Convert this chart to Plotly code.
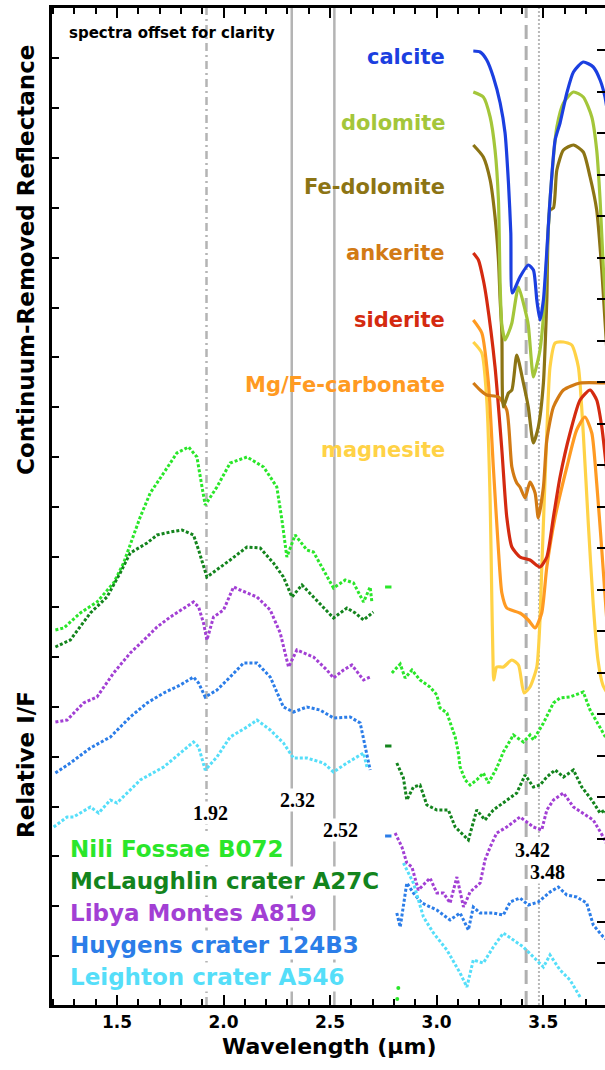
import plotly.graph_objects as go

# ---------------- data (wavelength in µm, offset reflectance / I/F in arbitrary units) ----------------
x_tick_vals = [1.5, 2.0, 2.5, 3.0, 3.5]
x_tick_text = ["1.5", "2.0", "2.5", "3.0", "3.5"]

band_centers = [1.92, 2.32, 2.52, 3.42, 3.48]
band_labels = ["1.92", "2.32", "2.52", "3.42", "3.48"]

mineral_names = ["calcite", "dolomite", "Fe-dolomite", "ankerite", "siderite", "Mg/Fe-carbonate", "magnesite"]
site_names = ["Nili Fossae B072", "McLaughlin crater A27C", "Libya Montes A819",
              "Huygens crater 124B3", "Leighton crater A546"]

# laboratory spectra (continuum removed, offset)
calcite_wl = [3.172, 3.204, 3.235, 3.266, 3.298, 3.321, 3.337, 3.348, 3.355, 3.391, 3.430, 3.454, 3.470,
              3.485, 3.501, 3.532, 3.556, 3.579, 3.611, 3.642, 3.688, 3.735, 3.767, 3.790, 3.80]
calcite_val = [954, 953, 945, 928, 902, 872, 822, 772, 712, 728, 740, 735, 705,
               685, 705, 805, 865, 882, 912, 933, 943, 938, 925, 908, 895]

dolomite_wl = [3.172, 3.219, 3.251, 3.274, 3.290, 3.298, 3.306, 3.321, 3.337, 3.353, 3.384, 3.415, 3.430,
               3.454, 3.470, 3.485, 3.501, 3.532, 3.564, 3.595, 3.642, 3.688, 3.728, 3.751, 3.767, 3.782, 3.80]
dolomite_val = [913, 908, 888, 855, 805, 720, 680, 665, 672, 682, 718, 695, 680,
                628, 640, 655, 688, 805, 878, 902, 913, 908, 888, 855, 805, 738, 680]

fedolomite_wl = [3.172, 3.219, 3.251, 3.274, 3.290, 3.298, 3.306, 3.313, 3.337, 3.353, 3.376, 3.407, 3.430,
                 3.454, 3.477, 3.501, 3.517, 3.532, 3.548, 3.564, 3.595, 3.642, 3.688, 3.720, 3.751, 3.775, 3.80]
fedolomite_val = [860, 848, 825, 788, 745, 705, 672, 598, 612, 615, 650, 622, 598,
                  562, 578, 622, 705, 795, 797, 835, 855, 860, 853, 828, 795, 735, 650]

ankerite_wl = [3.172, 3.204, 3.235, 3.290, 3.329, 3.353, 3.376, 3.391, 3.415, 3.438, 3.462, 3.477, 3.501,
               3.517, 3.548, 3.595, 3.673, 3.80]
ankerite_val = [622, 615, 610, 608, 595, 538, 522, 518, 507, 523, 512, 487, 518,
                565, 598, 615, 622, 622]

siderite_wl = [3.172, 3.196, 3.219, 3.235, 3.274, 3.306, 3.329, 3.353, 3.391, 3.438, 3.485, 3.517, 3.548,
               3.579, 3.626, 3.673, 3.720, 3.751, 3.775, 3.80]
siderite_val = [752, 745, 725, 705, 638, 555, 488, 458, 448, 445, 438, 448, 488,
                528, 572, 605, 615, 605, 578, 530]

mgfe_wl = [3.172, 3.212, 3.243, 3.266, 3.290, 3.306, 3.329, 3.391, 3.430, 3.462, 3.493, 3.517, 3.556,
           3.611, 3.657, 3.696, 3.728, 3.751, 3.775, 3.80]
mgfe_val = [685, 672, 622, 538, 455, 412, 397, 392, 385, 377, 392, 438, 488,
            538, 575, 588, 572, 522, 455, 380]

magnesite_wl = [3.172, 3.212, 3.235, 3.251, 3.259, 3.264, 3.268, 3.282, 3.313, 3.353, 3.384, 3.410, 3.438,
                3.470, 3.485, 3.493, 3.517, 3.532, 3.556, 3.595, 3.634, 3.665, 3.688, 3.712, 3.735, 3.757,
                3.780, 3.80]
magnesite_val = [663, 652, 605, 505, 405, 350, 325, 338, 338, 345, 340, 312, 318,
                 338, 385, 435, 572, 638, 662, 663, 660, 638, 572, 480, 400, 345,
                 320, 312]

# CRISM spectra (relative I/F, offset) - short-wavelength segment
nili1_wl = [1.211, 1.250, 1.328, 1.406, 1.484, 1.531, 1.609, 1.656, 1.719, 1.781, 1.836, 1.875, 1.899,
            1.914, 1.969, 2.031, 2.110, 2.188, 2.250, 2.274, 2.297, 2.336, 2.391, 2.422, 2.469, 2.516,
            2.571, 2.610, 2.657, 2.688, 2.696]
nili1_val = [375, 377, 392, 403, 422, 442, 488, 512, 532, 552, 558, 548, 518,
             500, 518, 542, 548, 538, 518, 485, 448, 470, 455, 453, 435, 417,
             425, 422, 403, 418, 403]

mcl1_wl = [1.211, 1.281, 1.375, 1.453, 1.515, 1.562, 1.641, 1.688, 1.750, 1.805, 1.859, 1.883, 1.922,
           1.969, 2.031, 2.110, 2.172, 2.234, 2.281, 2.321, 2.368, 2.422, 2.469, 2.516, 2.579, 2.618,
           2.657, 2.703]
mcl1_val = [358, 365, 392, 408, 432, 452, 462, 470, 473, 475, 470, 455, 428,
            435, 445, 458, 457, 442, 428, 408, 420, 408, 397, 387, 397, 392,
            385, 393]

lib1_wl = [1.211, 1.266, 1.343, 1.406, 1.484, 1.562, 1.641, 1.688, 1.750, 1.812, 1.859, 1.883, 1.906,
           1.922, 1.953, 2.000, 2.047, 2.078, 2.157, 2.219, 2.266, 2.305, 2.344, 2.422, 2.485, 2.516,
           2.563, 2.602, 2.657, 2.688]
lib1_val = [283, 285, 302, 308, 332, 352, 368, 378, 388, 397, 403, 398, 382,
            365, 388, 395, 418, 415, 408, 395, 372, 338, 355, 348, 335, 327,
            335, 340, 325, 328]

huy1_wl = [1.211, 1.281, 1.375, 1.469, 1.562, 1.641, 1.719, 1.797, 1.859, 1.883, 1.914, 1.969, 2.031,
           2.094, 2.157, 2.219, 2.281, 2.328, 2.391, 2.453, 2.516, 2.594, 2.641, 2.657, 2.688]
huy1_val = [232, 242, 257, 268, 288, 302, 312, 320, 328, 322, 308, 315, 328,
            342, 342, 328, 298, 293, 298, 295, 287, 288, 282, 265, 235]

lei1_wl = [1.203, 1.266, 1.296, 1.375, 1.414, 1.469, 1.500, 1.609, 1.719, 1.797, 1.859, 1.883, 1.914,
           1.969, 2.031, 2.110, 2.157, 2.219, 2.281, 2.328, 2.391, 2.469, 2.516, 2.579, 2.657, 2.673]
lei1_val = [178, 188, 188, 198, 192, 205, 202, 225, 238, 252, 263, 258, 235,
            248, 268, 278, 285, 275, 262, 247, 247, 242, 233, 242, 252, 238]

# CRISM spectra - long-wavelength segment
nili2_wl = [2.790, 2.829, 2.852, 2.884, 2.922, 2.969, 3.001, 3.016, 3.048, 3.071, 3.087, 3.102, 3.110,
            3.134, 3.157, 3.188, 3.219, 3.243, 3.282, 3.313, 3.360, 3.407, 3.438, 3.454, 3.501, 3.548,
            3.579, 3.626, 3.688, 3.720, 3.767, 3.782, 3.80]
nili2_val = [332, 341, 327, 335, 325, 318, 310, 297, 292, 278, 268, 252, 238,
             225, 220, 225, 232, 222, 237, 253, 270, 263, 270, 265, 282, 302,
             307, 308, 313, 295, 278, 272, 265]

mcl2_wl = [2.813, 2.844, 2.860, 2.891, 2.922, 2.954, 3.001, 3.055, 3.087, 3.118, 3.149, 3.188, 3.227,
           3.266, 3.329, 3.376, 3.415, 3.454, 3.485, 3.517, 3.556, 3.595, 3.642, 3.681, 3.728, 3.767,
           3.790, 3.80]
mcl2_val = [242, 227, 205, 218, 220, 200, 195, 195, 178, 172, 165, 195, 185,
            195, 205, 212, 230, 218, 220, 228, 235, 228, 235, 218, 205, 192,
            195, 190]

lib2_wl = [2.805, 2.837, 2.860, 2.884, 2.914, 2.969, 3.001, 3.032, 3.063, 3.095, 3.126, 3.157, 3.204,
           3.227, 3.251, 3.282, 3.329, 3.391, 3.423, 3.454, 3.493, 3.517, 3.548, 3.595, 3.642, 3.688,
           3.735, 3.782, 3.80]
lib2_val = [172, 158, 142, 138, 115, 127, 112, 112, 102, 128, 98, 113, 122,
            145, 158, 172, 178, 188, 183, 178, 175, 195, 205, 212, 198, 192,
            185, 168, 160]

huy2_wl = [2.813, 2.829, 2.860, 2.891, 2.930, 3.001, 3.063, 3.110, 3.149, 3.172, 3.204, 3.266, 3.313,
           3.345, 3.391, 3.430, 3.477, 3.532, 3.571, 3.611, 3.657, 3.704, 3.735, 3.782, 3.80]
huy2_val = [92, 78, 122, 112, 102, 95, 85, 92, 75, 98, 92, 92, 90,
            103, 107, 100, 103, 113, 118, 110, 108, 102, 80, 68, 65]

lei2_wl = [2.844, 2.891, 2.938, 2.985, 3.048, 3.110, 3.142, 3.172, 3.219, 3.266, 3.313, 3.360, 3.407,
           3.454, 3.501, 3.532, 3.579, 3.626, 3.673]
lei2_val = [142, 122, 88, 72, 55, 32, 18, 45, 42, 58, 72, 65, 58,
            48, 38, 50, 35, 25, 8]

# short clusters near 2.77 µm and stray Nili points
nili_dash_wl = [2.758, 2.788]
nili_dash_val = [418, 418]
mcl_dash_wl = [2.758, 2.788]
mcl_dash_val = [259, 259]
huy_dash_wl = [2.758, 2.788]
huy_dash_val = [169, 169]
nili_stray_wl = [2.820, 2.815]
nili_stray_val = [17, 6]

# ---------------- styling ----------------
W, H = 605, 1070
L, R, T, B = 52, 605, 8, 1005
FONT = "DejaVu Sans"
SERIF = "Liberation Serif"

mineral_colors = ["#1b3fe0", "#a4c63a", "#8c7414", "#d27a14", "#d42a10", "#ff9a22", "#ffd246"]
site_colors = ["#2ae62a", "#13841d", "#a23fd4", "#2b7de8", "#55def9"]


def fx(p):
    return (p - L) / (R - L)


def fy(p):
    return (B - p) / (B - T)


fig = go.Figure()

# Mars (CRISM) spectra drawn as dotted traces
mars_segments = [
    [(nili1_wl, nili1_val), (nili2_wl, nili2_val)],
    [(mcl1_wl, mcl1_val), (mcl2_wl, mcl2_val)],
    [(lib1_wl, lib1_val), (lib2_wl, lib2_val)],
    [(huy1_wl, huy1_val), (huy2_wl, huy2_val)],
    [(lei1_wl, lei1_val), (lei2_wl, lei2_val)],
]
for segs, col in zip(mars_segments, site_colors):
    for wl, val in segs:
        fig.add_trace(go.Scatter(x=wl, y=val, mode="lines",
                                 line=dict(color=col, width=3, dash="3px,2px"),
                                 hoverinfo="skip", showlegend=False))

for (wl, val), col in zip([(nili_dash_wl, nili_dash_val), (mcl_dash_wl, mcl_dash_val),
                           (huy_dash_wl, huy_dash_val)],
                          [site_colors[0], site_colors[1], site_colors[3]]):
    fig.add_trace(go.Scatter(x=wl, y=val, mode="lines", line=dict(color=col, width=3),
                             hoverinfo="skip", showlegend=False))
fig.add_trace(go.Scatter(x=nili_stray_wl, y=nili_stray_val, mode="markers",
                         marker=dict(color=site_colors[0], size=4), hoverinfo="skip", showlegend=False))

# laboratory spectra
lab = [(calcite_wl, calcite_val), (dolomite_wl, dolomite_val), (fedolomite_wl, fedolomite_val),
       (ankerite_wl, ankerite_val), (siderite_wl, siderite_val), (mgfe_wl, mgfe_val),
       (magnesite_wl, magnesite_val)]
draw_order = [6, 5, 4, 3, 2, 1, 0]
for i in draw_order:
    wl, val = lab[i]
    fig.add_trace(go.Scatter(x=wl, y=val, mode="lines", yaxis="y2",
                             line=dict(color=mineral_colors[i], width=3.2, shape="spline", smoothing=0.6),
                             hoverinfo="skip", showlegend=False))

# vertical band-centre lines
band_styles = [
    dict(color="#b4b4b4", width=2.5, dash="8px,4px,2px,4px"),
    dict(color="#b4b4b4", width=2.5),
    dict(color="#b4b4b4", width=2.5),
    dict(color="#b0b0b0", width=3, dash="14px,7px"),
    dict(color="#b8b8b8", width=2, dash="2px,2px"),
]
shapes = []
for bc, st in zip(band_centers, band_styles):
    shapes.append(dict(type="line", xref="x", yref="paper", x0=bc, x1=bc, y0=0, y1=1,
                       line=st, layer="below"))

ann = []
# band labels
band_label_pos = [(210, 813), (297, 800), (340, 830), (532, 850), (547, 872)]
for txt, (px_, py_) in zip(band_labels, band_label_pos):
    ann.append(dict(text=txt, xref="paper", yref="paper", x=fx(px_), y=fy(py_),
                    xanchor="center", yanchor="middle", showarrow=False, bgcolor="white", borderpad=0,
                    font=dict(family=SERIF, size=20, color="black", weight="bold")))

# mineral labels
mineral_label_y = [57, 123, 187, 253, 320, 385, 450]
for name, col, py_ in zip(mineral_names, mineral_colors, mineral_label_y):
    ann.append(dict(text=name, xref="paper", yref="paper", x=fx(447), y=fy(py_),
                    xanchor="right", yanchor="middle", showarrow=False,
                    font=dict(family=FONT, size=21, color=col, weight="bold")))

# site labels (white boxes hide the band lines)
site_label_y = [849, 881, 913, 945, 977]
for name, col, py_ in zip(site_names, site_colors, site_label_y):
    ann.append(dict(text=name, xref="paper", yref="paper", x=fx(68), y=fy(py_),
                    xanchor="left", yanchor="middle", showarrow=False, bgcolor="white", borderpad=1,
                    font=dict(family=FONT, size=23, color=col, weight="bold")))

ann.append(dict(text="spectra offset for clarity", xref="paper", yref="paper", x=fx(172), y=fy(33),
                xanchor="center", yanchor="middle", showarrow=False,
                font=dict(family=FONT, size=15, color="black", weight="bold")))

# axis titles
ann.append(dict(text="Continuum-Removed Reflectance", xref="paper", yref="paper", x=fx(26), y=fy(260),
                xanchor="center", yanchor="middle", textangle=-90, showarrow=False,
                font=dict(family=FONT, size=23, color="black", weight="bold")))
ann.append(dict(text="Relative I/F", xref="paper", yref="paper", x=fx(26), y=fy(765),
                xanchor="center", yanchor="middle", textangle=-90, showarrow=False,
                font=dict(family=FONT, size=23, color="black", weight="bold")))
ann.append(dict(text="Wavelength (µm)", xref="paper", yref="paper", x=fx(329), y=fy(1046),
                xanchor="center", yanchor="middle", showarrow=False,
                font=dict(family=FONT, size=22, color="black", weight="bold")))

left_ticks = [947 - 49.9 * k for k in range(19)]
right_ticks = [955 - 41.5 * k for k in range(23)]

fig.update_layout(
    width=W, height=H,
    margin=dict(l=L, r=W - R, t=T, b=H - B, pad=0),
    paper_bgcolor="white", plot_bgcolor="white",
    showlegend=False,
    shapes=shapes,
    annotations=ann,
    xaxis=dict(range=[1.195, 3.79], tickvals=x_tick_vals, ticktext=x_tick_text,
               ticks="inside", ticklen=10, tickwidth=2, tickcolor="black",
               minor=dict(dtick=0.1, tick0=1.5, ticks="inside", ticklen=6, tickwidth=2, tickcolor="black"),
               showline=True, linewidth=3, linecolor="black", mirror="ticks",
               showgrid=False, zeroline=False,
               tickfont=dict(family=FONT, size=17, color="black", weight="bold")),
    yaxis=dict(range=[0, 997], tickvals=left_ticks, showticklabels=False,
               ticks="inside", ticklen=7, tickwidth=2, tickcolor="black",
               showline=True, linewidth=3, linecolor="black",
               showgrid=False, zeroline=False),
    yaxis2=dict(range=[0, 997], overlaying="y", side="right", tickvals=right_ticks,
                showticklabels=False, ticks="inside", ticklen=8, tickwidth=2, tickcolor="black",
                showline=False, showgrid=False, zeroline=False),
)

page_fix = ("document.documentElement.style.margin='0';document.body.style.margin='0';"
            "document.documentElement.style.overflow='hidden';document.body.style.overflow='hidden';")
fig.write_html("out.html", post_script=page_fix, config={"displayModeBar": False})
